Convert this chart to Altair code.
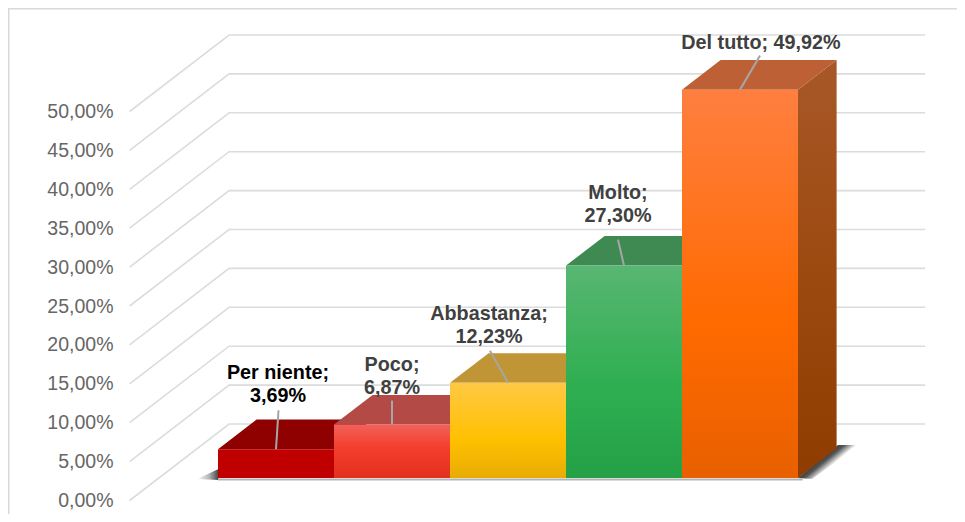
import altair as alt
import pandas as pd

categories = ["Per niente", "Poco", "Abbastanza", "Molto", "Del tutto"]
values = [3.69, 6.87, 12.23, 27.30, 49.92]
value_labels = ["3,69%", "6,87%", "12,23%", "27,30%", "49,92%"]
axis_ticks = [0, 5, 10, 15, 20, 25, 30, 35, 40, 45, 50]

# styles
front_stops = [
    [("#c00000", 0), ("#c00000", 1)],
    [("#f2605a", 0), ("#f43d2b", .45), ("#e2301f", 1)],
    [("#ffc844", 0), ("#ffc000", .6), ("#e8ac05", 1)],
    [("#58b672", 0), ("#30af52", .55), ("#24a046", 1)],
    [("#ff7f40", 0), ("#ff6a00", .6), ("#e86000", 1)],
]
top_colors = ["#8f0000", "#b34a45", "#c09535", "#3f8a52", "#be6035"]
text_colors = ["#000000", "#404040", "#404040", "#404040", "#404040"]
leader_ends = [(2.5, -39), (0, -24), (-18, -32), (-6, -26), (20, -34)]
label_centers = [
    [(2, -76), (2, -53)],
    [(0, -60), (0, -37)],
    [(-19, -69), (-19, -46)],
    [(-6, -73), (-6, -50)],
    [(21, -47)],
]

WIDTH, HEIGHT = 949, 506
STEP, PCT = 116.0, 7.78
X_ORIGIN, Y_ORIGIN = 180.75, 492.5
DX, DY = 99.5 / STEP, 76.5 / PCT
T1, T2 = 0.294, 0.294 + 0.388

xs = alt.Scale(domain=[-X_ORIGIN / STEP, (WIDTH - X_ORIGIN) / STEP], range=[0, WIDTH], nice=False, zero=False)
ys = alt.Scale(domain=[(Y_ORIGIN - HEIGHT) / PCT, Y_ORIGIN / PCT], range=[HEIGHT, 0], nice=False, zero=False)
value_axis = alt.Axis(
    values=axis_ticks, orient="left", offset=-105, domain=False, ticks=False, grid=False, title=None,
    labelExpr="replace(format(datum.value, '.2f'), '.', ',') + '%'",
    labelFont="Liberation Sans", labelFontSize=19.5, labelColor="#666666", labelPadding=0)
X = alt.X("x:Q", scale=xs, axis=None)
Y = alt.Y("y:Q", scale=ys, axis=value_axis, stack=None)


def px(u, t):
    return u + DX * t


def py(v, t):
    return v + DY * t


def grad(stops, **vec):
    v = dict(x1=0, y1=0, x2=0, y2=1)
    v.update(vec)
    return alt.Gradient(gradient="linear", stops=[alt.GradientStop(color=c, offset=o) for c, o in stops], **v)


layers = []

# walls and gridlines
grid = []
for lv in axis_ticks:
    for i, (u, t) in enumerate([(-0.51, 0), (-0.51, 1), (5.49, 1)]):
        grid.append({"x": px(u, t), "y": py(lv, t), "lv": lv, "i": i})
layers.append(alt.Chart(pd.DataFrame(grid)).mark_line(color="#dcdcdc", strokeWidth=1.6).encode(
    x=X, y=Y, detail="lv:N", order="i:Q"))

# frame
layers.append(alt.Chart(pd.DataFrame({"a": [0]})).mark_rule(color="#d9d9d9", strokeWidth=2).encode(
    x=alt.value(0.5), y=alt.value(0), y2=alt.value(HEIGHT)))
layers.append(alt.Chart(pd.DataFrame({"a": [0]})).mark_rule(color="#d9d9d9", strokeWidth=2).encode(
    x=alt.value(0), x2=alt.value(WIDTH), y=alt.value(0.5)))

# shadows (pixel offsets from the bars' floor corners, converted into scale units)
cx5, cy5 = px(5, T1), py(0, T1)
rs = []
for dx, up, low in [(0, 0, 0), (14, -11.5, 1), (40, -33, -17.5), (62, -33, -33)]:
    rs.append({"x": cx5 + dx / STEP, "y": cy5 - up / PCT, "y2": cy5 - low / PCT})
layers.append(alt.Chart(pd.DataFrame(rs)).mark_area(
    orient="vertical",
    fill=grad([("#404040", 0), ("#555555", .35), ("#c8c8c8", .8), ("#ffffff", 1)], x1=.32, y1=.485, x2=.53, y2=.625)).encode(
    x=X, y=Y, y2=alt.Y2("y2:Q")))
cx0 = px(0, T1)
ls = []
for dx, up, low in [(-21, 1, 1), (0.5, -9, 2)]:
    ls.append({"x": cx0 + dx / STEP, "y": cy5 - up / PCT, "y2": cy5 - low / PCT})
layers.append(alt.Chart(pd.DataFrame(ls)).mark_area(
    orient="vertical",
    fill=grad([("#ffffff", 0), ("#b8b8b8", .55), ("#444444", 1)], x1=0, y1=0, x2=1, y2=0)).encode(
    x=X, y=Y, y2=alt.Y2("y2:Q")))
layers.append(alt.Chart(pd.DataFrame({"x": [px(0, T1)], "x2": [px(5.04, T1)], "y": [py(-0.19, T1)]})).mark_rule(
    color="#b5b5b5", strokeWidth=2).encode(x=X, x2=alt.X2("x2:Q"), y=Y))

# bars
for k, (cat, val) in enumerate(zip(categories, values)):
    u0, u1 = float(k), float(k + 1)
    d = px(0, T2) - px(0, T1)
    e = py(0, T2) - py(0, T1)
    vt = py(val, T1)
    top = [{"x": px(u0, T1), "y": vt, "y2": vt},
           {"x": px(u0, T1) + d, "y": vt, "y2": vt + e},
           {"x": px(u1, T1), "y": vt, "y2": vt + e},
           {"x": px(u1, T1) + d, "y": vt + e, "y2": vt + e}]
    layers.append(alt.Chart(pd.DataFrame(top)).mark_area(orient="vertical", color=top_colors[k]).encode(
        x=X, y=Y, y2=alt.Y2("y2:Q")))
    front = pd.DataFrame({"x": [px(u0, T1)], "x2": [px(u1, T1)], "y": [vt], "y2": [py(0, T1)], "cat": [cat]})
    layers.append(alt.Chart(front).mark_rect(fill=grad(front_stops[k])).encode(
        x=X, x2=alt.X2("x2:Q"), y=Y, y2=alt.Y2("y2:Q")))

# side of the last bar
val = values[-1]
side = [{"x": px(5, T1), "y": py(val, T1), "y2": py(0, T1)},
        {"x": px(5, T2), "y": py(val, T2), "y2": py(0, T2)}]
layers.append(alt.Chart(pd.DataFrame(side)).mark_area(
    orient="vertical", fill=grad([("#a85828", 0), ("#9c4a10", .5), ("#8f3c00", 1)])).encode(
    x=X, y=Y, y2=alt.Y2("y2:Q")))

# leaders and labels
lead, txt = [], []
for k, val in enumerate(values):
    ax, ay = px(k + .5, T1), py(val, T1)
    ex, ey = leader_ends[k]
    lead.append({"x": ax, "y": ay, "k": k, "i": 0})
    lead.append({"x": ax + ex / STEP, "y": ay - ey / PCT, "k": k, "i": 1})
    if len(label_centers[k]) == 2:
        lines = [categories[k] + ";", value_labels[k]]
    else:
        lines = [categories[k] + "; " + value_labels[k]]
    for line, (cx, cy) in zip(lines, label_centers[k]):
        txt.append({"x": ax + cx / STEP, "y": ay - cy / PCT, "t": line, "c": text_colors[k]})
layers.append(alt.Chart(pd.DataFrame(lead)).mark_line(color="#a6a6a6", strokeWidth=2).encode(
    x=X, y=Y, detail="k:N", order="i:Q"))
layers.append(alt.Chart(pd.DataFrame(txt)).mark_text(
    font="Liberation Sans", fontWeight="bold", fontSize=19.8, align="center", baseline="middle").encode(
    x=X, y=Y, text="t:N", color=alt.Color("c:N", scale=None)))

chart = alt.layer(*layers).properties(
    width=WIDTH, height=HEIGHT,
    autosize=alt.AutoSizeParams(type="none"), padding=0,
).configure_view(stroke=None).configure(background="white")

chart.save("out.html", embed_options={"renderer": "svg", "actions": False})
